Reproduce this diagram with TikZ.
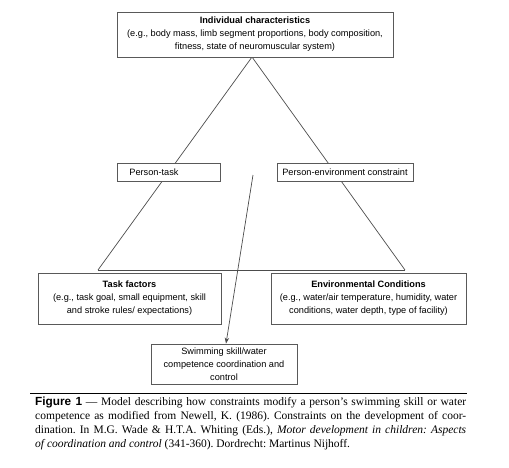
\documentclass[tikz,border=0pt]{standalone}
\usepackage{fontspec}
\setmainfont{Liberation Serif}
\setsansfont{Liberation Sans}
\usetikzlibrary{arrows.meta}
\frenchspacing
\begin{document}
\begin{tikzpicture}[x=1pt,y=-1pt,
  box/.style={draw=black!65, line width=0.8pt, fill=white, inner sep=0pt, align=center, font=\sffamily\fontsize{9.2}{13}\selectfont},
  conn/.style={draw=black!70, line width=0.7pt},
  arr/.style={conn, -{Stealth[length=6pt,width=4.5pt]}}]
\useasboundingbox (0,0) rectangle (509,467);
\coordinate (apex) at (252,57);
\coordinate (bl) at (98,270);
\coordinate (br) at (405,270);
\coordinate (astart) at (253,175);
\draw[conn] (bl) -- (apex) -- (br);
\draw[conn] (bl) -- (br);
\node[box, minimum width=276pt, minimum height=45pt] (top) at (255,34.5)
  {\textbf{Individual characteristics}\\(e.g., body mass, limb segment proportions, body composition,\\fitness, state of neuromuscular system)};
\node[box, minimum width=103pt, minimum height=18pt, align=left, anchor=west, text width=95pt] (pt) at (117,172) {\hspace*{8pt}Person-task};
\node[box, minimum width=136pt, minimum height=18pt] (pe) at (345,172) {Person-environment constraint};
\node[box, minimum width=183pt, minimum height=51pt] (task) at (129.5,298.5)
  {\textbf{Task factors}\\(e.g., task goal, small equipment, skill\\and stroke rules/ expectations)};
\node[box, minimum width=195pt, minimum height=51pt] (env) at (368.5,298.5)
  {\textbf{Environmental Conditions}\\(e.g., water/air temperature, humidity, water\\conditions, water depth, type of facility)};
\node[box, minimum width=146pt, minimum height=40pt] (swim) at (224,364)
  {Swimming skill/water\\competence coordination and\\control};
\draw[arr] (astart) -- (swim.north -| 226,0);
\coordinate (rl) at (30,393);
\coordinate (rr) at (467,393);
\draw[line width=0.9pt] (rl) -- (rr);
\node[anchor=north west, inner sep=0pt, text width=431pt, align=justify,
  font=\fontsize{11.5}{13.8}\selectfont] (cap) at (35,397)
  {{\sffamily\bfseries\fontsize{11.8}{13.8}\selectfont Figure 1} --- Model describing how constraints modify a person’s swimming skill or water\linebreak
  competence as modified from Newell, K. (1986). Constraints on the development of coor-\linebreak
  dination. In M.G. Wade \& H.T.A. Whiting (Eds.), \textit{Motor development in children: Aspects}\linebreak
  \textit{of coordination and control} (341-360). Dordrecht: Martinus Nijhoff.\par};
\end{tikzpicture}
\end{document}
